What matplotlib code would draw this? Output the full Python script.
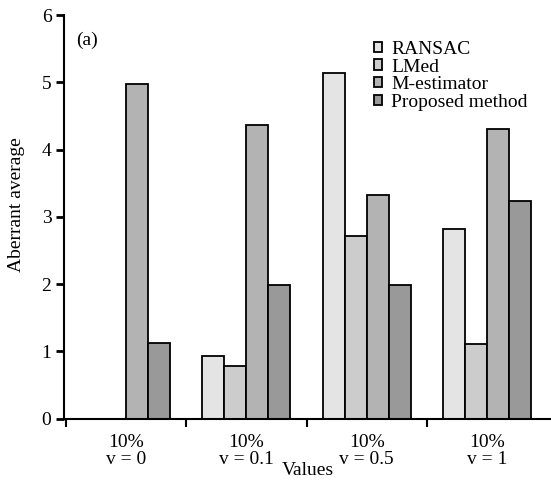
import numpy as np
from matplotlib import pyplot as plt

plt.rcParams["font.family"] = ["Liberation Serif", "DejaVu Serif"]
plt.rcParams["font.size"] = 14

categories = ["10%\nv = 0", "10%\nv = 0.1", "10%\nv = 0.5", "10%\nv = 1"]
methods = ["RANSAC", "LMed", "M-estimator", "Proposed method"]
ransac = [0.0, 0.93, 5.14, 2.82]
lmed = [0.0, 0.78, 2.71, 1.11]
m_estimator = [4.98, 4.36, 3.32, 4.30]
proposed = [1.13, 1.99, 1.98, 3.23]
colors = ["#e4e4e4", "#cccccc", "#b3b3b3", "#999999"]

fig = plt.figure(figsize=(5.51, 4.83), dpi=100)
ax = fig.add_axes([0.116, 0.1335, 0.884, 0.8354])

x = np.arange(len(categories))
w = 0.183
series = [ransac, lmed, m_estimator, proposed]
for i, (vals, name, c) in enumerate(zip(series, methods, colors)):
    ax.bar(x + (i - 1.5) * w, vals, w, color=c, edgecolor="black",
           linewidth=1.3, label=name)

ax.set_xlim(-0.515, 3.53)
ax.set_ylim(0, 6)
ax.set_yticks(range(7))
ax.set_xticks(x)
ax.set_xticklabels(categories, linespacing=1.0)
ax.set_xticks([-0.5, 0.5, 1.5, 2.5], minor=True)
ax.tick_params(axis="x", which="major", length=0, pad=11)
ax.tick_params(axis="x", which="minor", direction="out", length=6, width=1.5)
ax.tick_params(axis="y", direction="out", length=6, width=2, pad=3)

for side in ["top", "right"]:
    ax.spines[side].set_visible(False)
for side in ["left", "bottom"]:
    ax.spines[side].set_linewidth(1.5)

ax.set_ylabel("Aberrant average")
ax.yaxis.set_label_coords(-0.08, 0.53)
ax.set_xlabel("Values", labelpad=-4)
ax.text(0.025, 0.938, "(a)", transform=ax.transAxes, va="center", ha="left")

ax.legend(loc="upper left", bbox_to_anchor=(0.62, 0.955), frameon=False,
          handlelength=0.45, handleheight=0.45, handletextpad=0.45,
          labelspacing=0.03, borderaxespad=0)

fig.savefig("out.png", dpi=100)
